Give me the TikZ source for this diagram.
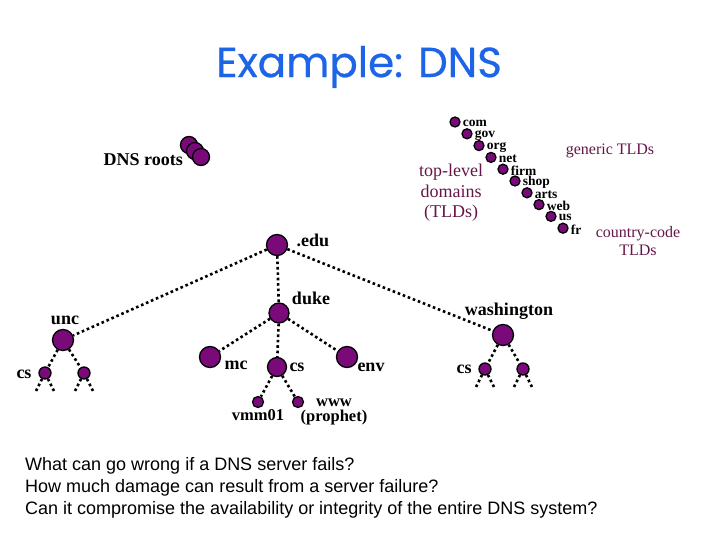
\documentclass[tikz,border=0pt]{standalone}
\usepackage{fontspec}
\setmainfont{Liberation Serif}
\newfontfamily\titlefont{Poppins}[FakeBold=0.6]
\newfontfamily\arialfont{Liberation Sans}
\definecolor{titleblue}{RGB}{30,100,230}
\definecolor{nodepurple}{RGB}{122,10,122}
\definecolor{maroon}{RGB}{100,22,72}
\begin{document}
\begin{tikzpicture}[x=1pt,y=-1pt,
  dom/.style={circle,draw=black,line width=1.3pt,fill=nodepurple,inner sep=0pt,minimum size=#1},
  dom/.default=20pt,
  edge/.style={line width=2.6pt,dash pattern=on 2.6pt off 2.8pt},
  lab/.style={font=\fontsize{18}{20}\selectfont\bfseries,inner sep=0pt},
  smalllab/.style={font=\fontsize{16.5}{18}\selectfont\bfseries,inner sep=0pt},
  tldlab/.style={font=\fontsize{13.5}{14}\selectfont\bfseries,inner sep=0pt,anchor=west},
  desc/.style={font=\fontsize{16}{18}\selectfont,text=maroon,inner sep=0pt,align=center}]
\useasboundingbox (0,0) rectangle (720,540);

% title
\node[font=\titlefont\fontsize{42}{46}\selectfont,text=titleblue,inner sep=0pt] (title) at (359,67) {Example: DNS};

% DNS roots
\node[dom=17pt] (r1) at (189,145) {};
\node[dom=17pt] (r2) at (195,151) {};
\node[dom=17pt] (r3) at (201,157) {};
\node[lab,anchor=east] (rootlab) at (183,160) {DNS roots};

% TLDs
\foreach \t [count=\i from 0] in {com,gov,org,net,firm,shop,arts,web,us,fr}{
  \node[dom=10pt] (tld\i) at ({455+12*\i},{122+11.8*\i}) {};
  \node[tldlab] (tl\i) at ([xshift=2pt,yshift=-1.5pt]tld\i.east) {\t};
}
\node[desc,font=\fontsize{18}{20.5}\selectfont] (toplev) at (451,193) {top-level\\domains\\(TLDs)};
\node[desc] (generic) at (610,151) {generic TLDs};
\node[desc] (cc) at (638,241) {country-code\\TLDs};

% tree nodes
\node[dom=21pt] (edu) at (277,245) {};
\node[dom=20pt] (duke) at (279,313) {};
\node[dom=21pt] (unc) at (63,340) {};
\node[dom=21pt] (wash) at (503,335) {};
\node[dom=21pt] (mc) at (210,357) {};
\node[dom=19pt] (cs) at (277,367) {};
\node[dom=21pt] (env) at (347,357) {};
\node[dom=11pt] (vmm) at (258,402) {};
\node[dom=11pt] (www) at (298,402) {};
\node[dom=12pt] (ucs1) at (45,373) {};
\node[dom=12pt] (ucs2) at (84,373) {};
\node[dom=12pt] (wcs1) at (485,369) {};
\node[dom=12pt] (wcs2) at (523,369) {};

% labels
\node[lab] (edulab) at (313,240) {.edu};
\node[lab] (dukelab) at (311,298) {duke};
\node[lab] (unclab) at (65,320) {unc};
\node[lab] (washlab) at (509,311) {washington};
\node[lab] (ucslab) at (24,374) {cs};
\node[lab] (mclab) at (236,365) {mc};
\node[lab] (cslab) at (297,367) {cs};
\node[lab] (envlab) at (371,367) {env};
\node[lab] (wcslab) at (464,369) {cs};
\node[smalllab] (vmmlab) at (258,415) {vmm01};
\node[smalllab] (wwwlab) at (334,403) {www};
\node[smalllab] (prophlab) at (334,418) {(prophet)};

% edges
\draw[edge] (edu) -- (unc);
\draw[edge] (edu) -- (duke);
\draw[edge] (edu) -- (wash);
\draw[edge] (duke) -- (mc);
\draw[edge] (duke) -- (cs);
\draw[edge] (duke) -- (env);
\draw[edge] (cs) -- (vmm);
\draw[edge] (cs) -- (www);
\draw[edge] (unc) -- (ucs1);
\draw[edge] (unc) -- (ucs2);
\draw[edge] (wash) -- (wcs1);
\draw[edge] (wash) -- (wcs2);

% leaf stubs
\foreach \n/\yy in {ucs1/391,ucs2/391,wcs1/387,wcs2/387}{
  \coordinate (\n L) at ([xshift=-9pt]\n.south |- 0,\yy);
  \coordinate (\n R) at ([xshift=9pt]\n.south |- 0,\yy);
  \draw[edge] (\n) -- (\n L);
  \draw[edge] (\n) -- (\n R);
}

% questions
\node[font=\arialfont\fontsize{18}{22}\selectfont,align=left,anchor=west,inner sep=0pt] (q) at (25,488)
 {What can go wrong if a DNS server fails?\\How much damage can result from a server failure?\\Can it compromise the availability or integrity of the entire DNS system?};
\end{tikzpicture}
\end{document}
